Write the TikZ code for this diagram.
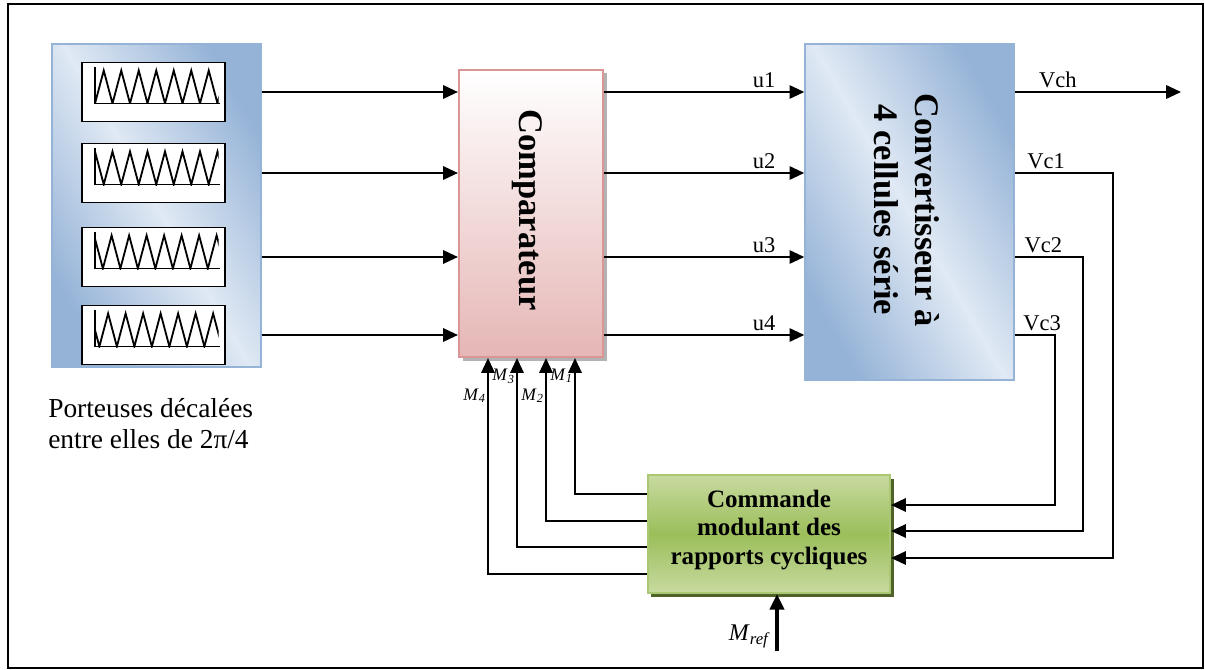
\documentclass[tikz,border=0pt]{standalone}
\usepackage{fontspec}
\setmainfont{Liberation Serif}
\usetikzlibrary{arrows.meta,shadows,calc,positioning}

\definecolor{bluelight}{RGB}{224,233,244}
\definecolor{bluedark}{RGB}{149,179,215}
\definecolor{pinkline}{RGB}{217,150,148}
\definecolor{pinkfill}{RGB}{229,182,181}
\definecolor{greenmid}{RGB}{155,190,90}
\definecolor{greenlight}{RGB}{200,218,160}
\definecolor{greendark}{RGB}{79,98,40}

\newcommand{\Msub}[1]{\textit{M}\textsubscript{\textit{#1}}}

\tikzset{
  line/.style={line width=1.4pt},
  wire/.style={line width=1.4pt,-{Triangle[length=10.5pt,width=9.5pt]}},
  bluebox/.style={draw=bluedark,line width=1pt,shading=axis,top color=bluedark,bottom color=bluedark,middle color=bluelight,shading angle=120},
  carbox/.style={draw,line width=1.3pt,fill=white,minimum width=3.575cm,minimum height=1.475cm},
  compbox/.style={draw=pinkline,line width=1.5pt,top color=white,bottom color=pinkfill,minimum width=3.6cm,minimum height=7.175cm,
    drop shadow={shadow xshift=2.5pt,shadow yshift=-2.5pt,fill=gray!60,opacity=1}},
  cmdbox/.style={draw=greenmid!85,line width=1.5pt,shading=axis,top color=greenlight,bottom color=greenlight,middle color=greenmid,
    minimum width=6.05cm,minimum height=2.95cm,
    drop shadow={shadow xshift=2.5pt,shadow yshift=-2.5pt,fill=greendark,opacity=1}},
  bigtxt/.style={font=\fontsize{24.5}{29}\selectfont\bfseries,align=center},
  cmdtxt/.style={font=\fontsize{17.8}{20}\selectfont\bfseries,align=center},
  sigtxt/.style={font=\fontsize{16}{18}\selectfont,inner sep=2pt},
  mtxt/.style={font=\fontsize{12.5}{14}\selectfont,inner sep=1pt},
}

\begin{document}
\begin{tikzpicture}[x=0.025cm,y=-0.025cm]
  \useasboundingbox (0,0) rectangle (1205,670);
  \draw[line width=1.5pt] (8,4) rectangle (1203,668);

  % blocs
  \node[bluebox,minimum width=5.225cm,minimum height=8.075cm] (port) at (156.5,205.5) {};
  \node[compbox] (comp) at (531,213.5) {};
  \node[bigtxt,rotate=-90] (comptxt) at (527,210) {Comparateur};
  \node[bluebox,minimum width=5.225cm,minimum height=8.4cm] (conv) at (909.5,212) {};
  \node[bigtxt,rotate=-90] (convtxt) at (907,210) {Convertisseur à\\4 cellules série};
  \node[cmdbox] (cmd) at (769,534) {};
  \node[cmdtxt] (cmdtxt) at (769,530) {Commande\\modulant des\\rapports cycliques};
  \node[font=\fontsize{19.5}{22}\selectfont,align=left,anchor=north west,inner sep=0pt] (porttxt) at (48,398)
    {Porteuses décalées\\entre elles de 2π/4};

  % porteuses
  \foreach \i/\y/\p in {1/92/0,2/173/0.5,3/257/0.55,4/335/0.75}{
    \node[carbox] (car\i) at (153.5,\y) {};
    \draw[line width=1.3pt] (95,\y-25) -- (95,\y+11.5) -- (220,\y+11.5);
    \begin{scope}
      \clip (95,\y-25) rectangle (218.5,\y+12);
      \draw[line width=1.3pt] ({95-(2*\p+1)*8.75},\y-21.5)
        \foreach \k in {0,...,16}{ -- ({95+(\k-2*\p)*8.75},{\y+11.5-33*mod(\k,2)}) };
    \end{scope}
    \draw[wire] (port.east |- car\i) -- (comp.west |- car\i);
    \draw[wire] (comp.east |- car\i) -- node[sigtxt,pos=0.8,above] {u\i} (conv.west |- car\i);
  }

  % sorties du convertisseur
  \coordinate (vout) at (1181,92);
  \draw[wire] (conv.east |- car1) -- node[sigtxt,pos=0.26,above] {Vch} (vout);
  \coordinate (b1) at (1113,558);
  \coordinate (b2) at (1083,531);
  \coordinate (b3) at (1055,505);
  \draw[wire] (conv.east |- car2) -- node[sigtxt,pos=0.32,above] {Vc1} (b1 |- car2) -- (b1) -- (cmd.east |- b1);
  \draw[wire] (conv.east |- car3) -- node[sigtxt,pos=0.42,above] {Vc2} (b2 |- car3) -- (b2) -- (cmd.east |- b2);
  \draw[wire] (conv.east |- car4) -- node[sigtxt,pos=0.68,above] {Vc3} (b3 |- car4) -- (b3) -- (cmd.east |- b3);

  % rapports cycliques
  \coordinate (m1) at (575,494);
  \coordinate (m2) at (546,521);
  \coordinate (m3) at (517,547);
  \coordinate (m4) at (488,574);
  \draw[wire] (cmd.west |- m1) -- (m1) -- node[mtxt,pos=0.87,left] {\Msub{1}} (comp.south -| m1);
  \draw[wire] (cmd.west |- m2) -- (m2) -- node[mtxt,pos=0.77,left] {\Msub{2}} (comp.south -| m2);
  \draw[wire] (cmd.west |- m3) -- (m3) -- node[mtxt,pos=0.905,left] {\Msub{3}} (comp.south -| m3);
  \draw[wire] (cmd.west |- m4) -- (m4) -- node[mtxt,pos=0.825,left] {\Msub{4}} (comp.south -| m4);

  % reference
  \coordinate (mref) at (777,651);
  \draw[line width=2.6pt,-{Triangle[length=11pt,width=10pt]}] (mref) -- node[pos=0.25,left,font=\fontsize{17}{18}\selectfont] {\Msub{ref}} (cmd.south -| mref);
\end{tikzpicture}
\end{document}
